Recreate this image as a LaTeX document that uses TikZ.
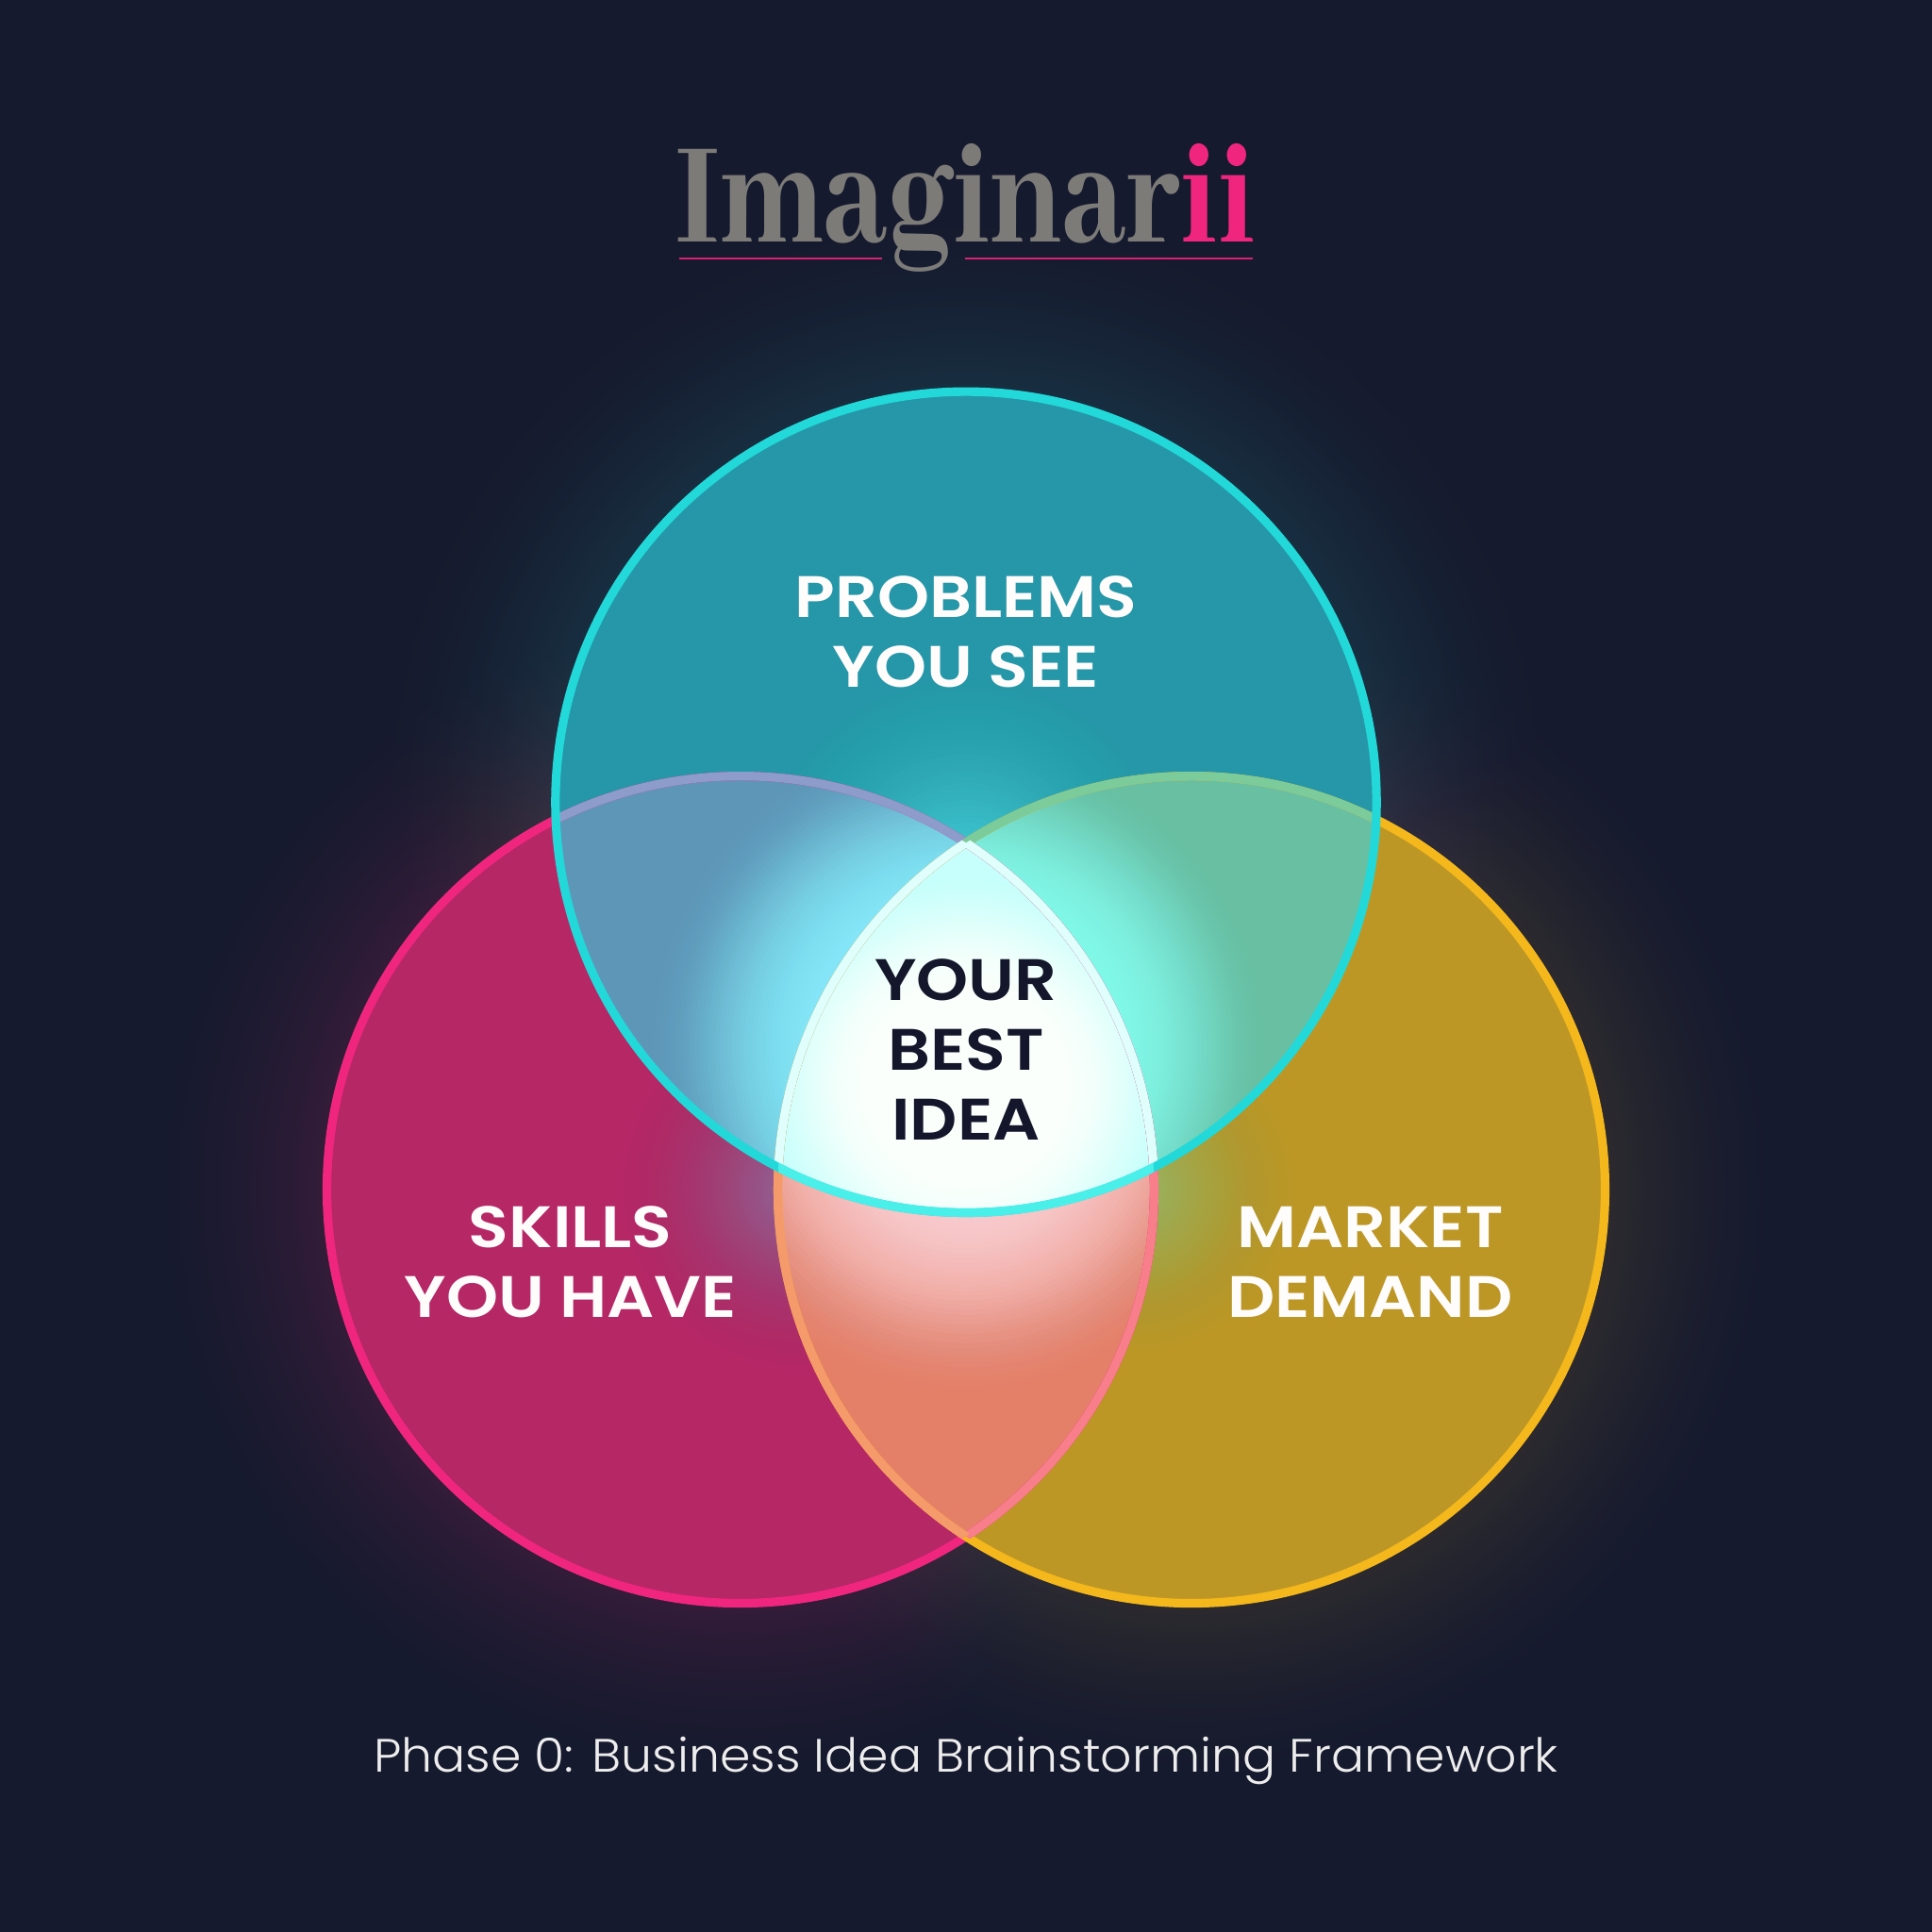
\documentclass[tikz,border=0pt]{standalone}
\usepackage{fontspec}
\setmainfont{Poppins}
\newfontfamily\logofont{Abhaya Libre ExtraBold}
\newfontfamily\labelfont{Poppins SemiBold}[FakeStretch=1.13]
\newfontfamily\capfont{Poppins Light}[FakeStretch=1.05]
\definecolor{bgc}{HTML}{161A2E}
\definecolor{tfill}{HTML}{2597A8}
\definecolor{lfill}{HTML}{B62766}
\definecolor{rfill}{HTML}{BD9726}
\definecolor{tlfill}{HTML}{5E96B8}
\definecolor{trfill}{HTML}{68BFA2}
\definecolor{lrfill}{HTML}{E47F68}
\definecolor{tline}{HTML}{22D8D8}
\definecolor{tlinebright}{HTML}{4BEFEA}
\definecolor{lline}{HTML}{F0267E}
\definecolor{rline}{HTML}{F5B81C}
\definecolor{lrline}{HTML}{F77E8A}
\definecolor{rlline}{HTML}{F59A6A}
\definecolor{tlline}{HTML}{8D9CCB}
\definecolor{trline}{HTML}{7CCB9A}
\definecolor{coreline}{HTML}{E0FEFC}
\definecolor{corebase}{HTML}{C6FFFB}
\definecolor{bluegl}{HTML}{8AEEFF}
\definecolor{greengl}{HTML}{86FFF0}
\definecolor{pinkgl}{HTML}{FFD6DA}
\definecolor{topgl}{HTML}{60EEF6}
\definecolor{lhalo}{HTML}{82AAC8}
\definecolor{rhalo}{HTML}{82E6AA}
\definecolor{logogray}{HTML}{7C7B78}
\definecolor{inkc}{HTML}{14172B}
\definecolor{cyangl}{HTML}{20C8C8}
\definecolor{pinkout}{HTML}{F0267E}
\definecolor{yellowout}{HTML}{E0B030}
% inner glow: stacked translucent discs whose opacity ramps up towards the middle
% (colour, centre, outer radius, inner radius, mean opacity of one disc)
\newcommand\sglow[5]{\foreach \k in {0,...,39}{%
  \pgfmathsetmacro\rr{#3-(#3-#4)*\k/39}%
  \pgfmathsetmacro\aa{min(1,2*#5*(\k+1)/40)}%
  \fill[#1,opacity=\aa] (#2) circle[radius=\rr cm];}}
% outer glow: opaque discs blended with "lighten", so neighbouring glows merge softly
% (colour, centre, outer radius, inner radius, greatest percentage of the colour)
\newcommand\oglow[5]{\foreach \k in {0,...,31}{%
  \pgfmathsetmacro\rr{#3-(#3-#4)*\k/31}%
  \pgfmathsetmacro\pp{#5*(\k/31)^1.6}%
  \fill[blend mode=lighten,color=#1!\pp!bgc] (#2) circle[radius=\rr cm];}}
\tikzset{
  xring/.style={line width=2pt},
  label/.style={font=\labelfont\fontsize{13.5}{16.1}\selectfont, align=center, text=white!96!pink, inner sep=0pt},
}
\newcommand\TC{(T) circle[radius=3.33cm]}
\newcommand\LC{(L) circle[radius=3.355cm]}
\newcommand\RC{(R) circle[radius=3.355cm]}
\begin{document}
\begin{tikzpicture}[x=0.01cm,y=-0.01cm]
\useasboundingbox (0,0) rectangle (1568,1568);
\fill[bgc] (0,0) rectangle (1568,1568);
\coordinate (T) at (784,651);
\coordinate (L) at (601,965.5);
\coordinate (R) at (967,965.5);
\coordinate (G) at (784,850);
\coordinate (H) at (784,720);
\coordinate (P) at (784,900);
\coordinate (C) at (784,880);
\coordinate (HL) at (650,965);
\coordinate (HR) at (918,965);
% outer glows
\oglow{cyangl}{T}{4.8}{3.3}{13}
\oglow{pinkout}{L}{4.8}{3.3}{15}
\oglow{yellowout}{R}{4.8}{3.3}{12}
% lower disks
\fill[lfill] \LC;
\fill[rfill] \RC;
\begin{scope}\clip \LC; \sglow{lhalo}{HL}{1.5}{.1}{.02} \end{scope}
\begin{scope}\clip \RC; \sglow{rhalo}{HR}{1.4}{.1}{.02} \end{scope}
% lower lens
\begin{scope}\clip \LC; \clip \RC;
  \fill[lrfill] \RC;
  \sglow{pinkgl}{P}{2.4}{.9}{.06}
\end{scope}
% upper disk
\fill[tfill] \TC;
\begin{scope}\clip \TC; \sglow{topgl}{H}{2.0}{.2}{.025} \end{scope}
\begin{scope}\clip \TC; \clip \LC;
  \fill[tlfill] \LC;
  \sglow{bluegl}{G}{2.6}{1.3}{.07}
\end{scope}
\begin{scope}\clip \TC; \clip \RC;
  \fill[trfill] \RC;
  \sglow{greengl}{G}{2.5}{1.3}{.07}
\end{scope}
% centre
\begin{scope}\clip \TC; \clip \LC; \clip \RC;
  \fill[corebase] \TC;
  \sglow{white}{C}{1.75}{.7}{.1}
\end{scope}
% outlines
\draw[xring,lline] \LC;
\draw[xring,rline] \RC;
\begin{scope}\clip \RC; \draw[xring,lrline] \LC; \end{scope}
\begin{scope}\clip \LC; \draw[xring,rlline] \RC; \end{scope}
\begin{scope}\clip \TC;
  \draw[xring,tlline] \LC;
  \draw[xring,trline] \RC;
\end{scope}
\begin{scope}\clip \TC; \clip \RC; \draw[xring,coreline] \LC; \end{scope}
\begin{scope}\clip \TC; \clip \LC; \draw[xring,coreline] \RC; \end{scope}
\draw[xring,tline] \TC;
\begin{scope}\clip \LC; \clip \RC; \draw[xring,tlinebright] \TC; \end{scope}
% logo
\node (logo) [anchor=base, inner sep=0pt] at (784,196)
  {\scalebox{0.835}[1]{\logofont\fontsize{36.5}{36.5}\selectfont\textcolor{logogray}{Imaginar}\textcolor{lline}{ii}}};
\coordinate (ua) at (551,210); \coordinate (ub) at (716,210);
\coordinate (uc) at (783,210); \coordinate (ud) at (1017,210);
\draw[lline!90!black, line width=.5pt] (ua) -- (ub) (uc) -- (ud);
% labels
\node (top) [label] at (784,513) {PROBLEMS\\YOU SEE};
\node (left) [label] at (463,1024) {SKILLS\\YOU HAVE};
\node (right) [label] at (1112,1024) {MARKET\\DEMAND};
\node (mid) [label, text=inkc] at (784,852) {YOUR\\BEST\\IDEA};
\node (cap) [anchor=base, inner sep=0pt, text=white!93!black, font=\capfont\fontsize{10.8}{12}\selectfont] at (784,1438) {Phase 0: Business Idea Brainstorming Framework};
\end{tikzpicture}
\end{document}
